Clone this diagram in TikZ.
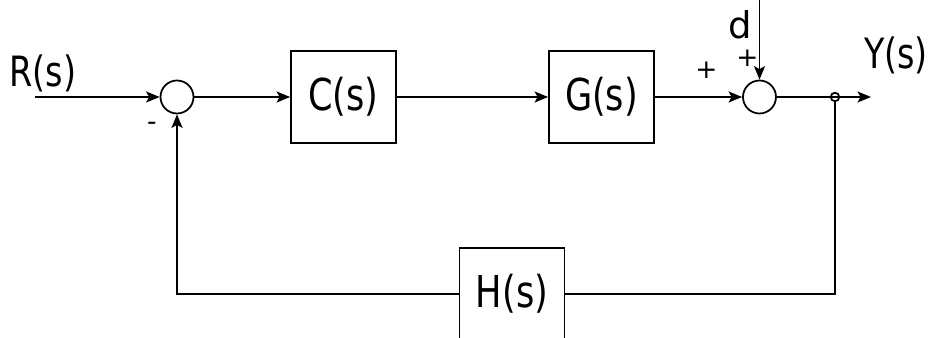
\documentclass[tikz,border=0pt]{standalone}
\usepackage{fontspec}
\setmainfont{DejaVu Sans}
\usepackage{graphicx}
\usepackage{tikz}
\usetikzlibrary{arrows.meta}
\usetikzlibrary{positioning}
% text in the figure is drawn a bit taller than wide
\newcommand{\talltxt}[1]{\scalebox{1}[1.25]{#1}}

\begin{document}
\begin{tikzpicture}[>={Stealth[length=0.27cm,width=0.22cm,inset=0.06cm]},line width=1pt,
  every node/.style={font=\fontsize{19}{21}\selectfont},
  block/.style={draw,minimum width=2.1cm,minimum height=1.84cm,font=\fontsize{20}{22}\selectfont},
  sum/.style={draw,circle,minimum size=0.66cm,inner sep=0pt},
  tap/.style={draw,circle,minimum size=0.17cm,inner sep=0pt},
  sign/.style={font=\fontsize{15}{16}\selectfont,inner sep=0pt}]
  \useasboundingbox (0,0) rectangle (18.72,6.76);
  \node[sum] (s1) at (3.54,4.82){};
  \node[block] (C) at (6.87,4.82){\raisebox{-0.08cm}{\talltxt{C(s)}}};
  \node[block] (G) at (12.03,4.82){\raisebox{-0.08cm}{\talltxt{G(s)}}};
  \node[sum] (s2) at (15.19,4.82){};
  \node[tap] (p) at (16.7,4.82){};
  \node[block] (H) at (10.24,0.88){\raisebox{-0.08cm}{\talltxt{H(s)}}};

  \coordinate (in) at (0.7,4.82);
  \coordinate (out) at (17.42,4.82);
  \coordinate (dtop) at (15.19,7.0);

  \node (R) at (0.86,5.3){\talltxt{R(s)}};
  \node (Y) at (17.92,5.66){\talltxt{Y(s)}};
  \node[font=\fontsize{21}{22}\selectfont,inner sep=0pt] (d) at (14.8,6.27){d};
  \node[sign] (m1) at (3.04,4.24){-};
  \node[sign] (p1) at (14.13,5.36){+};
  \node[sign] (p2) at (14.95,5.6){+};

  \draw[->](in)--(s1);
  \draw[->](s1)--(C);
  \draw[->](C)--(G);
  \draw[->](G)--(s2);
  \draw[->](dtop)--(s2);
  \draw[->](s2)--(out);
  \draw(p)|-(H);
  \draw[->](H)-|(s1);
\end{tikzpicture}
\end{document}
